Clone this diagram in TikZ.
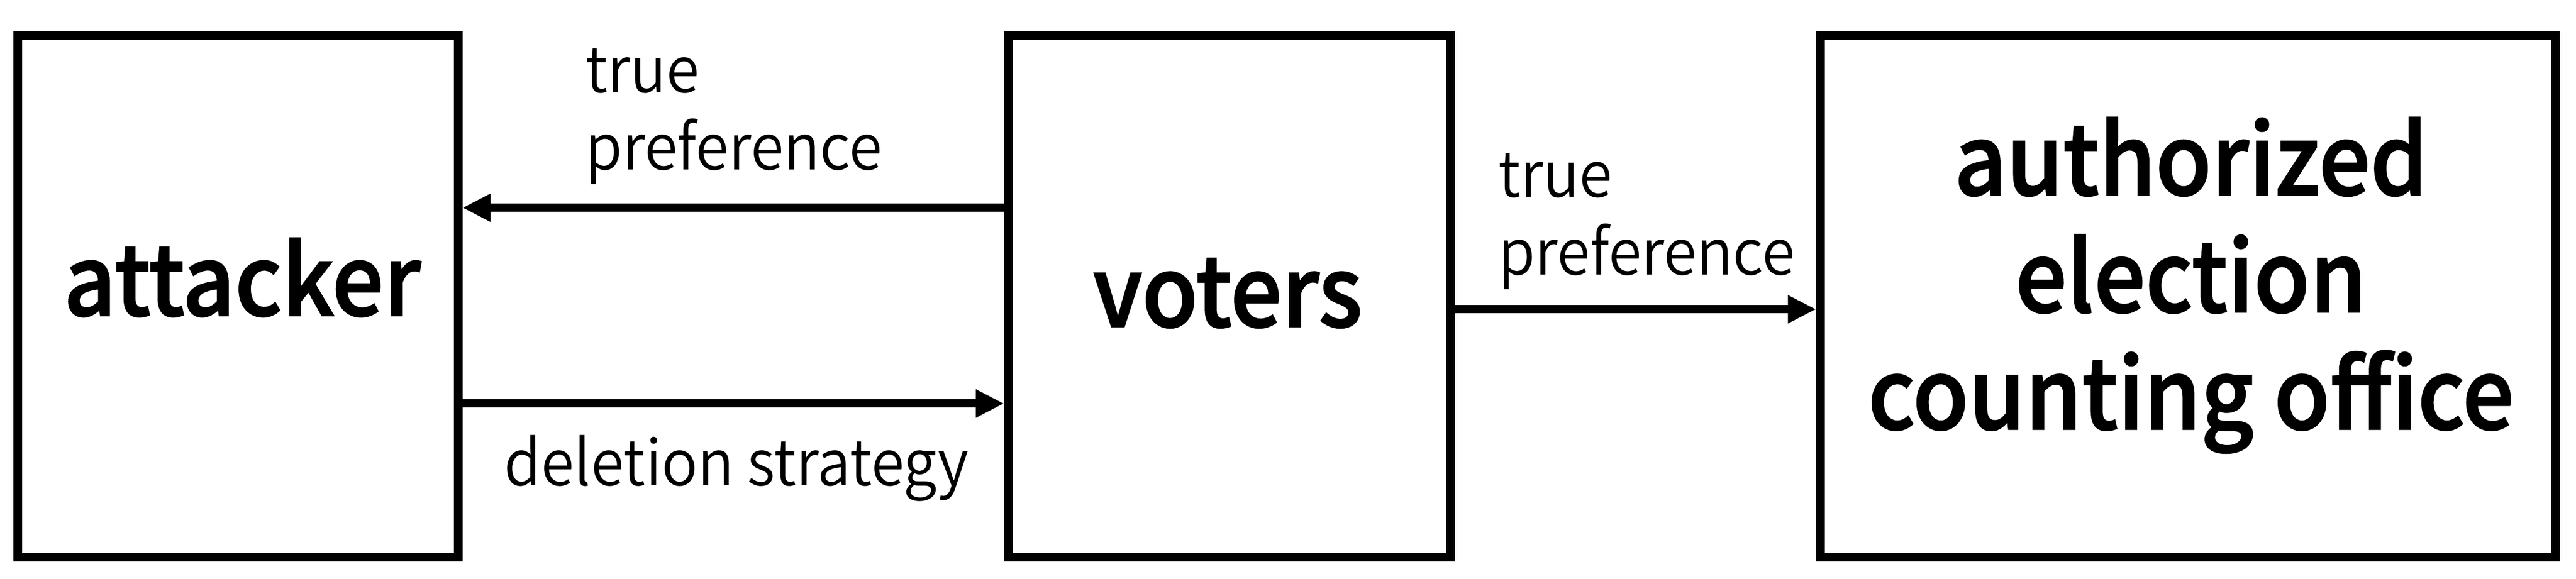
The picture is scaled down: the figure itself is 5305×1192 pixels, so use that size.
\documentclass[tikz,border=0pt]{standalone}
\usepackage{fontspec}
\setmainfont{Noto Sans CJK SC}
\newfontfamily\boxfont{Noto Sans CJK SC Medium}[FakeStretch=0.935,FakeBold=1.5]
\newfontfamily\edgefont{Noto Sans CJK SC DemiLight}[FakeStretch=0.95]
\usetikzlibrary{arrows.meta}
\begin{document}
\begin{tikzpicture}[x=0.01cm,y=-0.01cm,
  box/.style={draw, line width=0.18cm, minimum height=10.74cm, inner sep=0pt},
  boxtext/.style={font=\boxfont\fontsize{57}{68.6}\selectfont, inner sep=0pt, align=center},
  edgetext/.style={font=\edgefont\fontsize{37}{45.5}\selectfont, inner sep=0pt, align=left},
  arrow/.style={line width=0.17cm, -{Triangle[length=0.58cm,width=0.54cm]}}]
\useasboundingbox (0,0) rectangle (5305,1192);
\node[box, minimum width=9.06cm] (attacker) at (490,610) {};
\node[box, minimum width=9.10cm] (voters) at (2532,610) {};
\node[box, minimum width=15.13cm] (office) at (4506,610) {};
\node[boxtext, anchor=base] (attackerlabel) at (499,650) {attacker};
\node[boxtext, anchor=base] (voterslabel) at (2528,673) {voters};
\node[boxtext, anchor=base] (officelabel) at (4512,884) {authorized\\election\\counting office};
\draw[arrow] ([yshift=1.82cm]voters.west) -- ([yshift=1.82cm]attacker.east);
\draw[arrow] ([yshift=-2.21cm]attacker.east) -- ([yshift=-2.21cm]voters.west);
\draw[arrow] ([yshift=-0.27cm]voters.east) -- ([yshift=-0.27cm]office.west);
\node[edgetext, anchor=base west] (pref1) at (1205,350) {true\\preference};
\node[edgetext, anchor=base west] (pref2) at (3085,566) {true\\preference};
\node[edgetext, anchor=base west] (deletion) at (1038,1000) {deletion strategy};
\end{tikzpicture}
\end{document}
